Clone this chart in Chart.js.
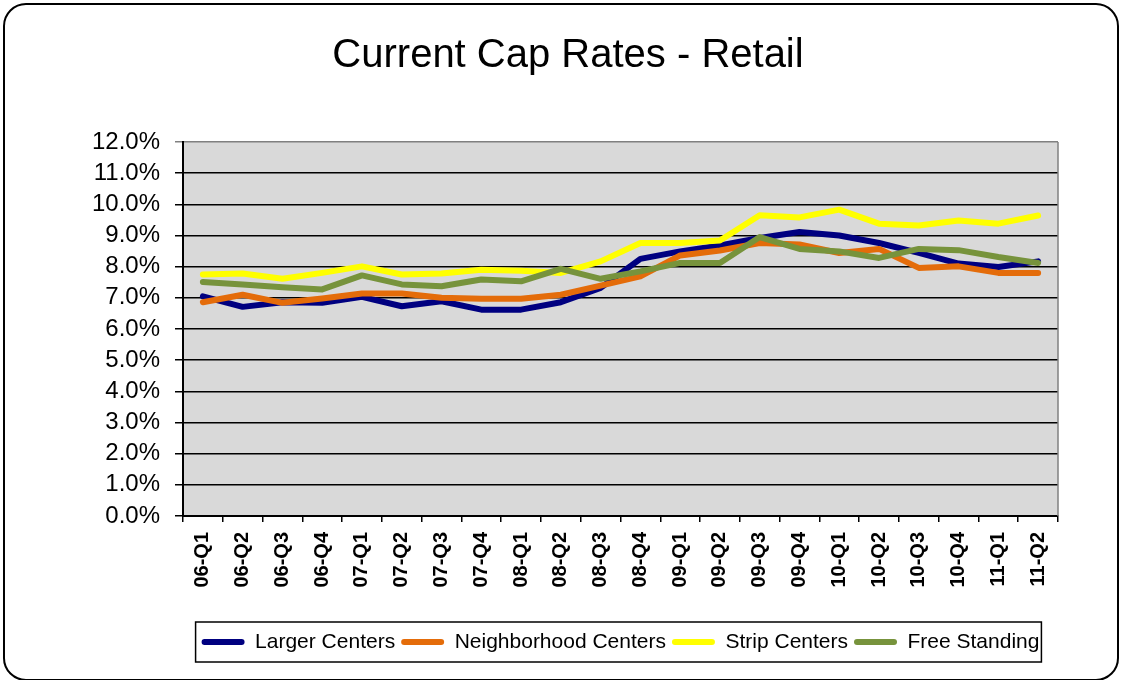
<!DOCTYPE html>
<html>
<head>
<meta charset="utf-8">
<title>Current Cap Rates - Retail</title>
<script src="https://cdn.jsdelivr.net/npm/chart.js@4.4.1/dist/chart.umd.min.js"></script>
<style>
  body { margin: 0; background: #fff; }
  #wrap { width: 1122px; height: 680px; }
</style>
</head>
<body>
<div id="wrap"><canvas id="grafico" width="1122" height="680"></canvas></div>
<script>
// Datos (tasas en %)
const quarters = ["06-Q1", "06-Q2", "06-Q3", "06-Q4", "07-Q1", "07-Q2", "07-Q3", "07-Q4",
  "08-Q1", "08-Q2", "08-Q3", "08-Q4", "09-Q1", "09-Q2", "09-Q3", "09-Q4",
  "10-Q1", "10-Q2", "10-Q3", "10-Q4", "11-Q1", "11-Q2"];

const largerCenters = [7.05, 6.71, 6.86, 6.84, 7.03, 6.73, 6.89, 6.62, 6.62, 6.86, 7.32,
  8.25, 8.49, 8.68, 8.92, 9.11, 9.00, 8.76, 8.44, 8.10, 7.99, 8.17];
const neighborhoodCenters = [6.86, 7.10, 6.84, 6.98, 7.14, 7.14, 7.00, 6.97, 6.97, 7.10, 7.39,
  7.69, 8.36, 8.52, 8.76, 8.71, 8.44, 8.57, 7.96, 8.01, 7.80, 7.80];
const stripCenters = [7.75, 7.78, 7.61, 7.80, 8.01, 7.75, 7.78, 7.90, 7.87, 7.80, 8.17,
  8.76, 8.76, 8.84, 9.65, 9.58, 9.83, 9.38, 9.32, 9.48, 9.38, 9.64];
const freeStanding = [7.51, 7.43, 7.34, 7.27, 7.72, 7.43, 7.37, 7.59, 7.53, 7.93, 7.61,
  7.85, 8.12, 8.12, 8.95, 8.57, 8.49, 8.28, 8.57, 8.53, 8.31, 8.12];

const seriesNames = ["Larger Centers", "Neighborhood Centers", "Strip Centers", "Free Standing"];
const seriesColors = ["#000080", "#E46C0A", "#FFFF00", "#77933C"];
const yTicks = [0, 1, 2, 3, 4, 5, 6, 7, 8, 9, 10, 11, 12];

const FONT = "'Liberation Sans', Arial, sans-serif";

// fondo blanco, marco redondeado y fondo gris del area de trazado
const fondoPlugin = {
  id: "fondo",
  beforeDraw(chart) {
    const c = chart.ctx;
    const a = chart.chartArea;
    c.save();
    c.fillStyle = "#fff";
    c.fillRect(0, 0, chart.width, chart.height);
    // marco exterior
    const x = 4, y = 4, w = 1114, h = 676, r = 22;
    c.beginPath();
    c.moveTo(x + r, y);
    c.arcTo(x + w, y, x + w, y + h, r);
    c.arcTo(x + w, y + h, x, y + h, r);
    c.arcTo(x, y + h, x, y, r);
    c.arcTo(x, y, x + w, y, r);
    c.closePath();
    c.lineWidth = 2;
    c.strokeStyle = "#000";
    c.stroke();
    // area de trazado
    c.fillStyle = "#D9D9D9";
    c.fillRect(a.left, a.top, a.right - a.left, a.bottom - a.top);
    c.restore();
  },
  beforeDatasetsDraw(chart) {
    const c = chart.ctx;
    const a = chart.chartArea;
    c.save();
    c.strokeStyle = "#808080";
    c.lineWidth = 1.5;
    c.beginPath();
    c.moveTo(a.right, a.top);
    c.lineTo(a.right, a.bottom);
    c.stroke();
    c.restore();
  },
  afterDraw(chart) {
    // recuadro de la leyenda
    const boxes = chart.legend.legendHitBoxes;
    if (!boxes || !boxes.length) return;
    let left = Infinity, right = -Infinity;
    boxes.forEach(b => {
      left = Math.min(left, b.left);
      right = Math.max(right, b.left + b.width);
    });
    const top = boxes[0].top - 9.5;
    const c = chart.ctx;
    c.save();
    c.strokeStyle = "#000";
    c.lineWidth = 1.5;
    c.strokeRect(left - 6, top, right - left + 8, 40);
    c.restore();
  }
};

const datasets = seriesNames.map((name, i) => ({
  label: name,
  data: [largerCenters, neighborhoodCenters, stripCenters, freeStanding][i],
  borderColor: seriesColors[i],
  backgroundColor: seriesColors[i],
  borderWidth: 6,
  borderCapStyle: "round",
  borderJoinStyle: "round",
  pointRadius: 0,
  tension: 0,
  fill: false,
  order: seriesNames.length - i
}));

const ctx = document.getElementById("grafico").getContext("2d");
window.myChart = new Chart(ctx, {
  type: "line",
  data: {
    labels: quarters,
    datasets: datasets
  },
  plugins: [fondoPlugin],
  options: {
    responsive: false,
    animation: false,
    layout: {
      padding: { left: 78, right: 64, top: 10, bottom: 17.5 }
    },
    plugins: {
      title: {
        display: true,
        text: "Current Cap Rates - Retail",
        color: "#000",
        font: { family: FONT, size: 40, weight: "normal" },
        padding: { top: 22, bottom: 62 }
      },
      legend: {
        display: true,
        position: "bottom",
        fullSize: false,
        labels: {
          color: "#000",
          font: { family: FONT, size: 21 },
          boxWidth: 43,
          boxHeight: 6,
          padding: 6,
          sort: (a, b) => a.datasetIndex - b.datasetIndex,
          generateLabels(chart) {
            const items = Chart.defaults.plugins.legend.labels.generateLabels(chart);
            items.forEach(it => {
              it.fillStyle = it.strokeStyle;
              it.lineWidth = 0;
              it.borderRadius = 3;
            });
            return items;
          }
        }
      },
      tooltip: { enabled: false }
    },
    scales: {
      x: {
        offset: true,
        afterFit(scale) { scale.height = 109.5; },
        grid: {
          offset: true,
          drawOnChartArea: false,
          drawTicks: true,
          tickLength: 6,
          color: "#000",
          lineWidth: 1.5
        },
        border: { color: "#000", width: 2 },
        ticks: {
          autoSkip: false,
          maxRotation: 90,
          minRotation: 90,
          padding: 10,
          color: "#000",
          font: { family: FONT, size: 20, weight: "bold" }
        }
      },
      y: {
        min: 0,
        max: 12,
        afterFit(scale) { scale.width = 105; },
        afterBuildTicks(scale) {
          scale.ticks = yTicks.map(v => ({ value: v }));
        },
        grid: {
          color: (c) => (c.tick && c.tick.value === 12 ? "#808080" : "#000"),
          lineWidth: 1.5,
          drawTicks: true,
          tickLength: 8
        },
        border: { color: "#000", width: 2 },
        ticks: {
          autoSkip: false,
          padding: 15,
          color: "#000",
          font: { family: FONT, size: 24 },
          callback: (v) => v.toFixed(1) + "%"
        }
      }
    }
  }
});
</script>
</body>
</html>
